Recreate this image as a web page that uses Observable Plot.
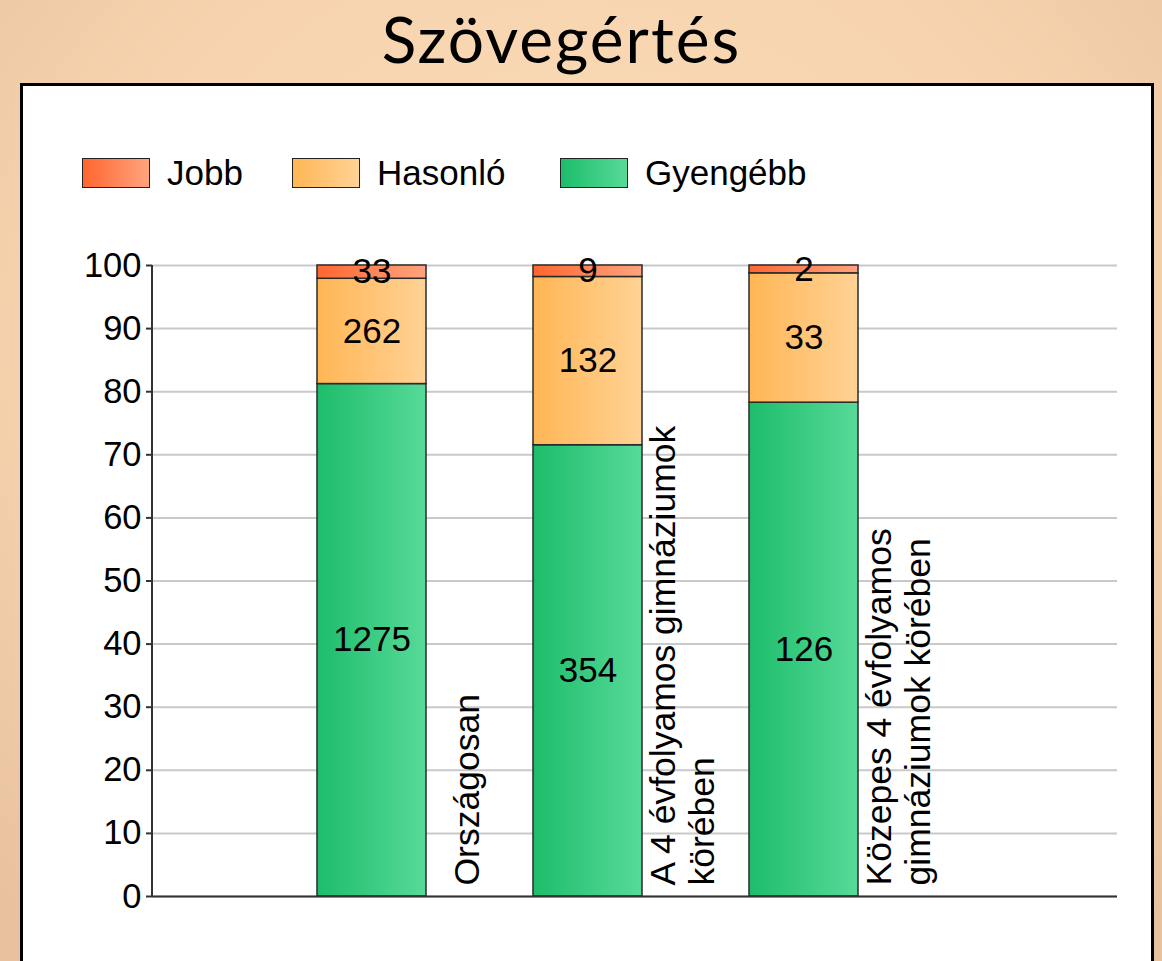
<!DOCTYPE html>
<html>
<head>
<meta charset="utf-8">
<script src="https://cdn.jsdelivr.net/npm/d3@7"></script>
<script src="https://cdn.jsdelivr.net/npm/@observablehq/plot@0.6"></script>
<style>
  html, body { margin: 0; padding: 0; }
  body {
    width: 1162px; height: 961px; overflow: hidden; position: relative;
    background: radial-gradient(ellipse 75% 80% at 50% 35%, #fbdcba 0%, #f7d4af 55%, #e8c19f 100%);
    font-family: "Liberation Sans", Arial, sans-serif;
  }
  #title {
    position: absolute; left: 0; width: 1123px; top: 4px; text-align: center;
    font-family: "Lato", sans-serif; font-size: 64px; font-weight: 400; color: #000;
    line-height: 70px; letter-spacing: 2px;
  }
  #panel {
    position: absolute; left: 20px; top: 83px; width: 1134px; height: 920px;
    box-sizing: border-box; border: 3px solid #000; background: #fff;
  }
  #chart { position: absolute; left: 0; top: 0; }
  .leg { position: absolute; top: 153px; height: 40px; display: flex; align-items: center; font-size: 35px; color: #000; }
  .sw { width: 68px; height: 30px; border: 1.5px solid #222; box-sizing: border-box; margin-right: 17px; }
</style>
</head>
<body>
<div id="title">Szövegértés</div>
<div id="panel"></div>
<div id="legend"></div>
<div id="chart"></div>
<script>
const categories = ["Országosan", "A 4 évfolyamos gimnáziumok\nkörében", "Közepes 4 évfolyamos\ngimnáziumok körében"];
const seriesNames = ["Gyengébb", "Hasonló", "Jobb"];
const legendOrder = ["Jobb", "Hasonló", "Gyengébb"];
const gyengebb = [1275, 354, 126];
const hasonlo = [262, 132, 33];
const jobb = [33, 9, 2];
const yTicks = [0, 10, 20, 30, 40, 50, 60, 70, 80, 90, 100];

const gradients = {
  "Gyengébb": ["#1dbd6b", "#57da98"],
  "Hasonló": ["#ffb655", "#ffd295"],
  "Jobb": ["#ff6630", "#ffa47e"]
};
const gradId = {"Gyengébb": "gG", "Hasonló": "gH", "Jobb": "gJ"};

const counts = {"Gyengébb": gyengebb, "Hasonló": hasonlo, "Jobb": jobb};
const rows = [];
categories.forEach((c, i) => {
  const total = gyengebb[i] + hasonlo[i] + jobb[i];
  seriesNames.forEach(s => {
    rows.push({cat: c, series: s, count: counts[s][i], label: String(counts[s][i]), pct: counts[s][i] / total * 100});
  });
});

const axisLine = (index, scales, values, dimensions) => {
  const x = dimensions.marginLeft;
  return d3.create("svg:line")
    .attr("x1", x).attr("x2", x)
    .attr("y1", scales.y(0)).attr("y2", scales.y(100))
    .attr("stroke", "#333").attr("stroke-width", 2).node();
};

const chart = Plot.plot({
  width: 1162,
  height: 961,
  marginLeft: 152,
  marginRight: 45,
  marginTop: 265,
  marginBottom: 65,
  style: {background: "transparent", fontFamily: "'Liberation Sans', Arial, sans-serif", color: "#000", overflow: "visible"},
  x: {domain: categories, range: [317, 858], paddingInner: 0.4954, paddingOuter: 0, axis: null},
  y: {domain: [0, 100], axis: null, label: null},
  color: {domain: seriesNames, range: seriesNames.map(s => `url(#${gradId[s]})`)},
  marks: [
    Plot.ruleY(yTicks, {stroke: "#c9c9c9", strokeWidth: 2}),
    Plot.barY(rows, Plot.stackY({x: "cat", y: "pct", fill: "series", stroke: "#2a2a2a", strokeWidth: 1.5})),
    Plot.ruleY([0], {stroke: "#333", strokeWidth: 2}),
    axisLine,
    Plot.axisY({ticks: yTicks, label: null, tickSize: 6, tickPadding: 5, fontSize: 34.5, stroke: "#333", strokeWidth: 2, tickFormat: d => String(d)}),
    Plot.text(rows, Plot.stackY({x: "cat", y: "pct", text: "label", fontSize: 35, fill: "#000"})),
    Plot.text(categories, {x: d => d, frameAnchor: "bottom", text: d => d, rotate: -90, textAnchor: "start", lineAnchor: "middle", lineHeight: 1.1, dx: 94, dy: -11, fontSize: 35.5, fill: "#000"})
  ]
});

const svg = d3.select(chart);
const defs = svg.insert("defs", ":first-child");
seriesNames.forEach(s => {
  const g = defs.append("linearGradient").attr("id", gradId[s]).attr("x1", 0).attr("x2", 1).attr("y1", 0).attr("y2", 0);
  g.append("stop").attr("offset", "0%").attr("stop-color", gradients[s][0]);
  g.append("stop").attr("offset", "100%").attr("stop-color", gradients[s][1]);
});
document.getElementById("chart").appendChild(chart);

const legendPos = {"Jobb": 82, "Hasonló": 292, "Gyengébb": 560};
const legend = document.getElementById("legend");
legendOrder.forEach(s => {
  const item = document.createElement("div");
  item.className = "leg";
  item.style.left = legendPos[s] + "px";
  const sw = document.createElement("div");
  sw.className = "sw";
  sw.style.background = `linear-gradient(to right, ${gradients[s][0]}, ${gradients[s][1]})`;
  const t = document.createElement("span");
  t.textContent = s;
  item.appendChild(sw);
  item.appendChild(t);
  legend.appendChild(item);
});
</script>
</body>
</html>
